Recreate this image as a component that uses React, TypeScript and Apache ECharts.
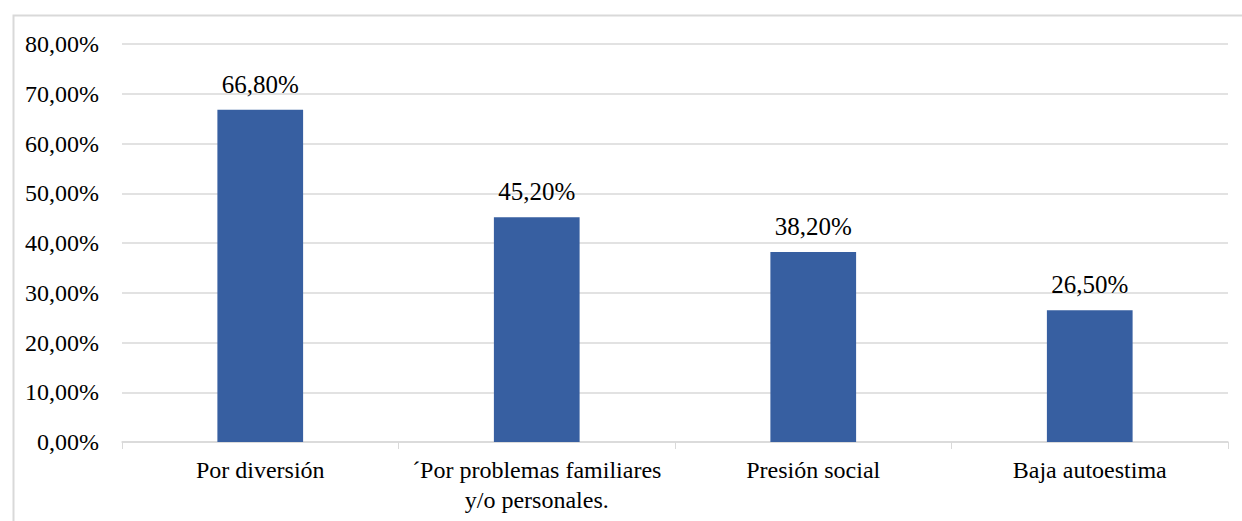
import React, { useEffect, useRef } from "react";
import * as echarts from "echarts";

const categories = [
  "Por diversión",
  "´Por problemas familiares\ny/o personales.",
  "Presión social",
  "Baja autoestima",
];
const values = [66.8, 45.2, 38.2, 26.5];
const yMin = 0;
const yMax = 80;
const yInterval = 10;

const fmt = (v: number) => v.toFixed(2).replace(".", ",") + "%";

export default function App() {
  const ref = useRef<HTMLDivElement>(null);
  useEffect(() => {
    const chart = echarts.init(ref.current!, null, { renderer: "svg" });
    const font = "Liberation Serif";
    chart.setOption({
      animation: false,
      backgroundColor: "#ffffff",
      textStyle: { fontFamily: font },
      graphic: [
        {
          type: "rect",
          left: 11,
          top: 13,
          shape: { width: 1300, height: 600 },
          style: { fill: "none", stroke: "#D9D9D9", lineWidth: 2 },
          z: -1,
        },
      ],
      grid: { left: 122, right: 14, top: 44, bottom: 79 },
      xAxis: {
        type: "category",
        data: categories,
        axisLine: { show: true, lineStyle: { color: "#D9D9D9", width: 1.5 } },
        axisTick: { show: true, length: 7, lineStyle: { color: "#D9D9D9" } },
        axisLabel: {
          interval: 0,
          color: "#000",
          fontFamily: font,
          fontSize: 24,
          lineHeight: 30,
          margin: 13,
        },
      },
      yAxis: {
        type: "value",
        min: yMin,
        max: yMax,
        interval: yInterval,
        axisLine: { show: false },
        axisTick: { show: false },
        splitLine: { lineStyle: { color: "#D9D9D9", width: 1.5 } },
        axisLabel: {
          color: "#000",
          fontFamily: font,
          fontSize: 24,
          margin: 23,
          formatter: (v: number) => fmt(v),
        },
      },
      series: [
        {
          type: "bar",
          data: values,
          barWidth: "31%",
          itemStyle: { color: "#375FA1" },
          label: {
            show: true,
            position: "top",
            distance: 13,
            color: "#000",
            fontFamily: font,
            fontSize: 25,
            formatter: (p: any) => fmt(p.value),
          },
        },
      ],
    });
    return () => chart.dispose();
  }, []);
  return (
    <div
      ref={ref}
      style={{ position: "fixed", left: 0, top: 0, width: 1242, height: 521 }}
    />
  );
}
